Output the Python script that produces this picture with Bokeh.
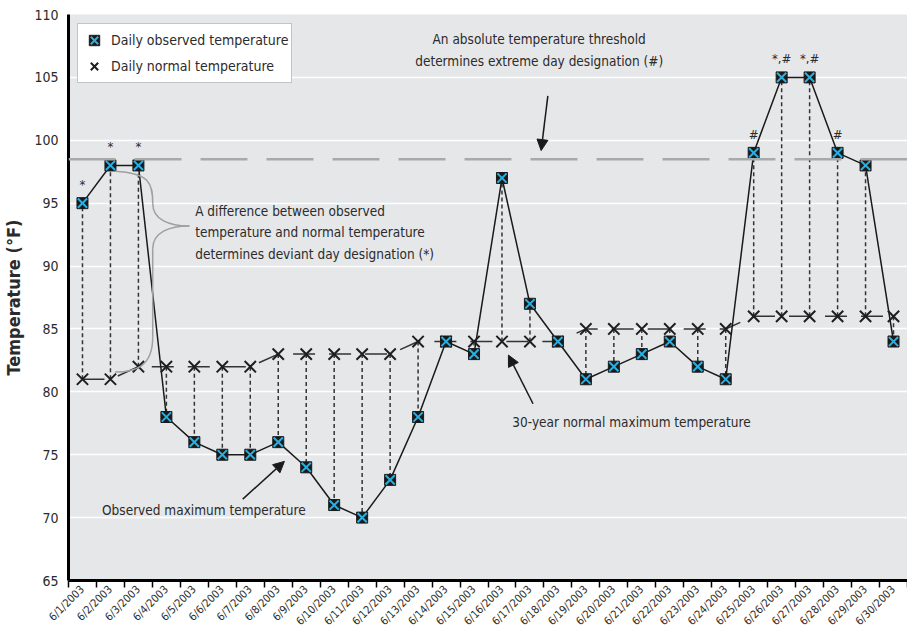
import math
from bokeh.plotting import figure
from bokeh.models import (ColumnDataSource, FixedTicker, Span, Legend, LegendItem,
                          Arrow, NormalHead, Range1d)
from bokeh.core.properties import value
from bokeh.embed import file_html
from bokeh.resources import INLINE

# ---------------- data ----------------
dates = ["6/1/2003", "6/2/2003", "6/3/2003", "6/4/2003", "6/5/2003", "6/6/2003",
         "6/7/2003", "6/8/2003", "6/9/2003", "6/10/2003", "6/11/2003", "6/12/2003",
         "6/13/2003", "6/14/2003", "6/15/2003", "6/16/2003", "6/17/2003", "6/18/2003",
         "6/19/2003", "6/20/2003", "6/21/2003", "6/22/2003", "6/23/2003", "6/24/2003",
         "6/25/2003", "6/26/2003", "6/27/2003", "6/28/2003", "6/29/2003", "6/30/2003"]
observed = [95, 98, 98, 78, 76, 75, 75, 76, 74, 71, 70, 73, 78, 84, 83,
            97, 87, 84, 81, 82, 83, 84, 82, 81, 99, 105, 105, 99, 98, 84]
normal = [81, 81, 82, 82, 82, 82, 82, 83, 83, 83, 83, 83, 84, 84, 84,
          84, 84, 84, 85, 85, 85, 85, 85, 85, 86, 86, 86, 86, 86, 86]
flags = ["*", "*", "*", "", "", "", "", "", "", "", "", "", "", "", "",
         "", "", "", "", "", "", "", "", "", "#", "*,#", "*,#", "#", "", ""]
threshold = 98.5
y_min, y_max = 65, 110
y_ticks = [65, 70, 75, 80, 85, 90, 95, 100, 105, 110]

FONT = "'DejaVu Sans Condensed', Roboto, sans-serif"
TXT = "#2b2b2b"

idx = list(range(len(dates)))
src = ColumnDataSource(dict(x=idx, obs=observed, nrm=normal, flag=flags))

p = figure(width=907, height=635,
           x_range=Range1d(-0.5, len(dates) - 0.5), y_range=Range1d(y_min, y_max),
           output_backend="svg", toolbar_location=None,
           min_border_left=60, min_border_top=14, min_border_right=0, min_border_bottom=40)
p.background_fill_color = "#e6e7e9"
p.border_fill_color = "white"
p.outline_line_color = None

# x axis: tick marks at day boundaries, rotated date labels
p.xaxis.ticker = FixedTicker(ticks=idx, minor_ticks=[i - 0.5 for i in range(len(dates) + 1)])
p.xaxis.major_label_overrides = {i: d for i, d in enumerate(dates)}
p.xaxis.major_label_orientation = math.pi / 4
p.xaxis.major_tick_out = 0
p.xaxis.major_tick_in = 0
p.xaxis.minor_tick_out = 7
p.xaxis.minor_tick_in = 0
p.xaxis.minor_tick_line_color = "black"
p.xaxis.minor_tick_line_width = 1.5
p.xaxis.axis_line_width = 3
p.xaxis.axis_line_color = "black"
p.xaxis.axis_label_standoff = 0
p.xaxis.major_label_text_font = FONT
p.xaxis.major_label_text_font_size = "11px"
p.xaxis.major_label_text_color = TXT
p.xaxis.major_label_standoff = 0

# y axis
p.yaxis.ticker = FixedTicker(ticks=y_ticks)
p.yaxis.major_tick_out = 0
p.yaxis.major_tick_in = 0
p.yaxis.minor_tick_line_color = None
p.yaxis.axis_line_width = 3
p.yaxis.axis_line_color = "black"
p.yaxis.major_label_text_font = FONT
p.yaxis.major_label_text_font_size = "14px"
p.yaxis.major_label_text_color = TXT
p.yaxis.major_label_standoff = 10
p.yaxis.axis_label = "Temperature (°F)"
p.yaxis.axis_label_text_font = FONT
p.yaxis.axis_label_text_font_style = "bold"
p.yaxis.axis_label_text_font_size = "18px"
p.yaxis.axis_label_text_color = TXT
p.yaxis.axis_label_standoff = 7

p.xgrid.visible = False
p.ygrid.ticker = FixedTicker(ticks=y_ticks)
p.ygrid.grid_line_color = "white"
p.ygrid.grid_line_width = 1.5

# threshold line
p.add_layout(Span(location=threshold, dimension="width", line_color="#a9a9a9",
                  line_width=2.5, line_dash="47 19"))

# vertical dashed connectors
p.segment(x0="x", y0="nrm", x1="x", y1="obs", source=src, line_color="#333333",
          line_width=1.5, line_dash="4 3")
# normal line
p.line("x", "nrm", source=src, line_color="#333333", line_width=1.5, line_dash="22 14")
# observed line
p.line("x", "obs", source=src, line_color="#1a1a1a", line_width=1.5)

nx = p.scatter("x", "nrm", source=src, marker="x", size=16, line_color="#1e1e1e", line_width=2)
sq = p.scatter("x", "obs", source=src, marker="square", size=11, fill_color="#1a1a1a",
               line_color="#1a1a1a")
cx = p.scatter("x", "obs", source=src, marker="x", size=13, line_color="#29b0e3", line_width=2)

# designation flags
p.text("x", "obs", text="flag", source=src, y_offset=-11, text_align="center",
       text_baseline="bottom", text_font=value(FONT), text_font_size="13px", text_color=TXT)

# annotation texts
ann_x = [16.33, 16.33, 4.03, 4.03, 4.03, 15.37, 0.70]
ann_y = [108.03, 106.29, 94.37, 92.71, 90.97, 77.63, 70.61]
ann_t = ["An absolute temperature threshold",
         "determines extreme day designation (#)",
         "A difference between observed",
         "temperature and normal temperature",
         "determines deviant day designation (*)",
         "30-year normal maximum temperature",
         "Observed maximum temperature"]
ann_a = ["center", "center", "left", "left", "left", "left", "left"]
p.text(x=ann_x, y=ann_y, text=ann_t, text_align=ann_a, text_baseline="middle",
       text_font=value(FONT), text_font_size="13.5px", text_color=TXT)

# arrows
arrows = [(16.64, 103.53, 16.40, 99.18), (16.11, 79.05, 15.23, 82.92), (5.73, 71.47, 7.22, 74.47)]
for (x0, y0, x1, y1) in arrows:
    p.add_layout(Arrow(x_start=x0, y_start=y0, x_end=x1, y_end=y1, line_width=1.5,
                       line_color="#1a1a1a",
                       end=NormalHead(size=11, fill_color="#1a1a1a", line_color="#1a1a1a")))

# brace
bx0 = [1.165, 2.511, 3.821, 2.511]
by0 = [97.53, 95.0, 93.18, 84.34]
bx1 = [2.511, 3.821, 2.511, 1.165]
by1 = [95.0, 93.18, 91.37, 81.58]
bcx0 = [2.404, 2.511, 3.113, 2.511]
bcy0 = [97.37, 93.66, 93.18, 81.97]
bcx1 = [2.511, 3.113, 2.511, 1.873]
bcy1 = [96.58, 93.18, 92.71, 81.58]
p.bezier(x0=bx0, y0=by0, x1=bx1, y1=by1, cx0=bcx0, cy0=bcy0, cx1=bcx1, cy1=bcy1,
         line_color="#a0a0a0", line_width=1.5)
p.segment(x0=[2.511], y0=[91.37], x1=[2.511], y1=[84.34], line_color="#a0a0a0", line_width=1.5)

legend = Legend(items=[LegendItem(label="Daily observed temperature", renderers=[sq, cx]),
                       LegendItem(label="Daily normal temperature", renderers=[nx])],
                location="top_left", margin=9, border_line_color="#8a8a8a", border_line_width=1,
                background_fill_color="white", background_fill_alpha=1.0,
                label_text_font=FONT, label_text_font_size="14px", label_text_color=TXT,
                glyph_width=26, glyph_height=26, spacing=-2, padding=3, label_standoff=4)
p.add_layout(legend)

open("out.html", "w").write(file_html(p, INLINE))
